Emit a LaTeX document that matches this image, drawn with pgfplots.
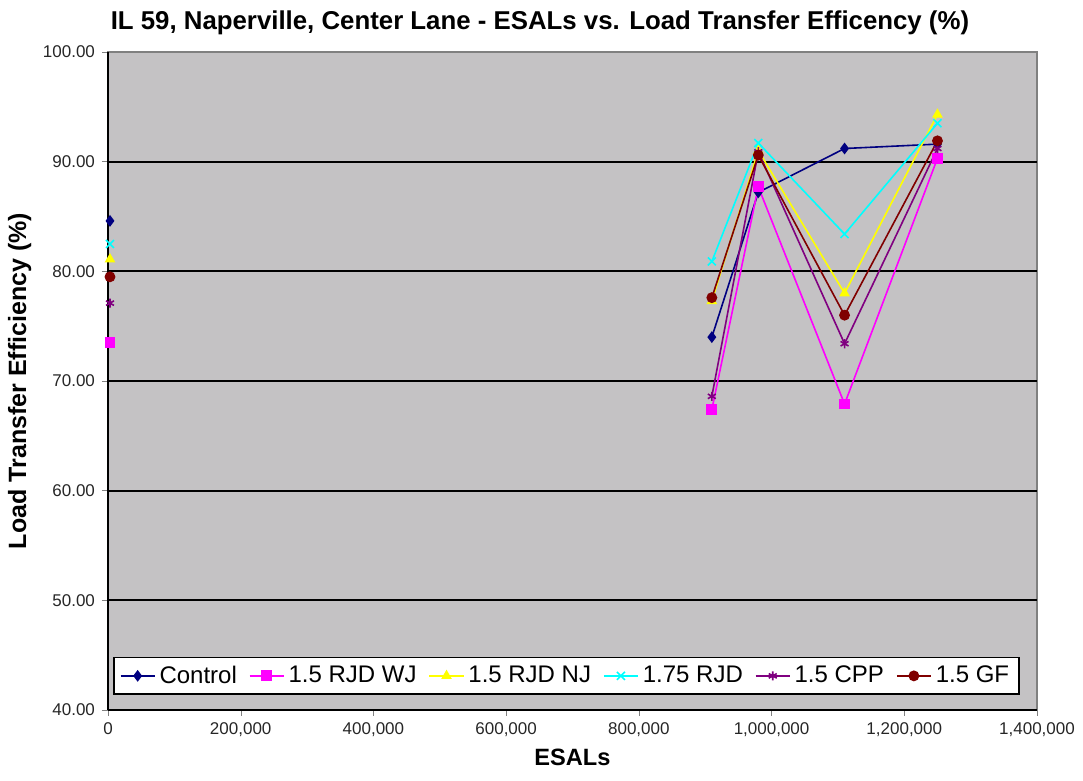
\documentclass[border=0pt]{standalone}
\usepackage{pgfplots}
\pgfplotsset{compat=1.18}
\usepackage{fontspec}
\setmainfont{Liberation Sans}
\usetikzlibrary{plotmarks}
\definecolor{plotgray}{RGB}{196,194,196}
\definecolor{plotedge}{RGB}{128,128,128}
\definecolor{ctrl}{RGB}{0,0,128}
\definecolor{wj}{RGB}{255,0,255}
\definecolor{nj}{RGB}{255,255,0}
\definecolor{rjd}{RGB}{0,255,255}
\definecolor{cpp}{RGB}{128,0,128}
\definecolor{gf}{RGB}{128,0,0}
\begin{document}
\begin{tikzpicture}
\path[use as bounding box] (-54pt,-35.5pt) rectangle (487.5pt,355pt);
\begin{axis}[
    at={(0,0)}, anchor=south west,
    width=464.5pt, height=329pt, scale only axis,
    xmin=0, xmax=1400000,
    ymin=40, ymax=100,
    xtick={0,200000,...,1400000},
    ytick={40,50,...,100},
    scaled x ticks=false,
    x tick label style={/pgf/number format/.cd, fixed, 1000 sep={,}},
    y tick label style={/pgf/number format/.cd, fixed, fixed zerofill, precision=2},
    /pgf/number format/assume math mode=true,
    tick label style={font=\fontsize{8.5}{10}\selectfont, text=black!85},
    axis lines*=left,
    tick align=outside,
    major tick length=3pt,
    extra y ticks={50,60,70,80,90},
    extra y tick labels={},
    extra y tick style={grid=major, major tick length=0pt},
    grid style={black, line width=0.9pt},
    axis line style={black, line width=0.6pt},
    axis background/.style={fill=plotgray, draw=plotedge, line width=0.8pt},
    unbounded coords=jump,
    title={\bfseries IL 59, Naperville, Center Lane - ESALs vs. Load Transfer Efficency (\%)},
    title style={font=\fontsize{12.9}{14}\selectfont, at={(0.465,1)}, yshift=-1pt},
    xlabel={\bfseries ESALs},
    ylabel={\bfseries Load Transfer Efficiency (\%)},
    xlabel style={font=\fontsize{11.8}{13}\selectfont, yshift=1pt},
    ylabel style={font=\fontsize{12.5}{14}\selectfont, yshift=-4pt},
    legend columns=6,
    legend style={at={(0.4935,0.023)}, anchor=south, fill=white, draw=black,
        line width=0.8pt, font=\fontsize{12}{14}\selectfont,
        /tikz/every even column/.append style={column sep=4pt}},
    legend cell align=left,
    every axis plot/.append style={line width=0.8pt, mark size=2.3pt},
]
\addplot[ctrl, mark=diamond*, mark options={fill=ctrl}] coordinates {
    (3000,84.6) (500000,nan) (910000,74.0) (980000,87.2) (1110000,91.2) (1250000,91.6)};
\addplot[wj, mark=square*, mark options={fill=wj}] coordinates {
    (3000,73.5) (500000,nan) (910000,67.4) (980000,87.7) (1110000,67.9) (1250000,90.3)};
\addplot[nj, mark=triangle*, mark options={fill=nj}] coordinates {
    (3000,81.1) (500000,nan) (910000,77.3) (980000,91.0) (1110000,78.0) (1250000,94.3)};
\addplot[rjd, mark=x, mark size=2.8pt] coordinates {
    (3000,82.5) (500000,nan) (910000,80.9) (980000,91.7) (1110000,83.4) (1250000,93.5)};
\addplot[cpp, mark=asterisk] coordinates {
    (3000,77.1) (500000,nan) (910000,68.6) (980000,90.9) (1110000,73.4) (1250000,91.2)};
\addplot[gf, mark=*, mark options={fill=gf}] coordinates {
    (3000,79.5) (500000,nan) (910000,77.6) (980000,90.6) (1110000,76.0) (1250000,91.9)};
\legend{Control, 1.5 RJD WJ, 1.5 RJD NJ, 1.75 RJD, 1.5 CPP, 1.5 GF}
\end{axis}
\end{tikzpicture}
\end{document}
